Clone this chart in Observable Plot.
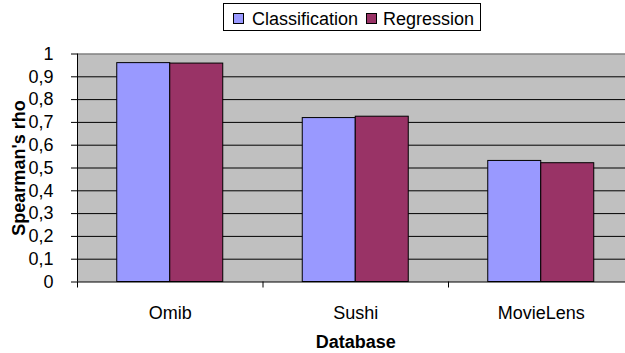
<!DOCTYPE html>
<html><head><meta charset="utf-8">
<script src="https://cdn.jsdelivr.net/npm/d3@7"></script>
<script src="https://cdn.jsdelivr.net/npm/@observablehq/plot@0.6"></script>
<style>
body{margin:0;background:#fff;font-family:"Liberation Sans",Arial,sans-serif;}
#wrap{position:relative;width:625px;height:353px;overflow:hidden;background:#fff;}
#legend{position:absolute;left:223px;top:3px;width:256px;height:26px;border:1px solid #000;background:#fff;}
.sw{position:absolute;top:9px;width:9px;height:9px;border:1px solid #000;}
.lt{position:absolute;top:5.5px;font-size:18px;line-height:18px;white-space:nowrap;color:#000;}
#chart{position:absolute;left:0;top:35px;}
</style>
</head><body>
<div id="wrap">
  <div id="chart"></div>
  <div id="legend"></div>
</div>
<script>
const categories = ["Omib", "Sushi", "MovieLens"];
const seriesNames = ["Classification", "Regression"];
const classification = [0.960, 0.719, 0.531];
const regression = [0.958, 0.725, 0.521];
const yTickValues = [0, 0.1, 0.2, 0.3, 0.4, 0.5, 0.6, 0.7, 0.8, 0.9, 1];
const yTickLabels = ["0", "0,1", "0,2", "0,3", "0,4", "0,5", "0,6", "0,7", "0,8", "0,9", "1"];
const colors = ["#9999FF", "#993366"];

// Excel-style grouped bars: gap width 150% of a bar
const gapWidth = 1.5;
const slot = 1 / (seriesNames.length + gapWidth);
const seriesValues = [classification, regression];
const rows = [];
categories.forEach((c, i) => {
  seriesValues.forEach((vals, s) => {
    rows.push({
      category: c, series: seriesNames[s], value: vals[i],
      x1: i + (gapWidth / 2 + s) * slot,
      x2: i + (gapWidth / 2 + s + 1) * slot
    });
  });
});
const catCenters = categories.map((c, i) => i + 0.5);
const catBounds = d3.range(categories.length + 1);

const chart = Plot.plot({
  width: 634, height: 318,
  marginLeft: 77, marginRight: 0.5, marginTop: 18.5, marginBottom: 71.5,
  style: {fontFamily: "'Liberation Sans', Arial, sans-serif", fontSize: "18px", color: "#000", background: "transparent", maxWidth: "none"},
  x: {domain: [0, categories.length], axis: null},
  y: {domain: [0, 1], axis: null},
  color: {domain: seriesNames, range: colors},
  marks: [
    Plot.frame({fill: "#C0C0C0", stroke: null}),
    Plot.gridY(yTickValues.slice(1, -1), {stroke: "#000", strokeOpacity: 1}),
    Plot.ruleY([1], {stroke: "#808080", strokeWidth: 1.5}),
    Plot.rectY(rows, {x1: "x1", x2: "x2", y: "value", fill: "series", stroke: "#000", strokeWidth: 1}),
    Plot.ruleX([0], {stroke: "#000"}),
    Plot.ruleY([0], {stroke: "#000"}),
    Plot.axisY(yTickValues, {
      tickSize: 6, tickPadding: 18,
      tickFormat: d => yTickLabels[Math.round(d * 10)],
      label: null
    }),
    Plot.axisX(catBounds, {tickSize: 6, tickFormat: () => "", label: null}),
    Plot.axisX(catCenters, {
      tickSize: 0, tickPadding: 24,
      tickFormat: d => categories[Math.floor(d)],
      label: null
    }),
    Plot.text(["Spearman's rho"], {
      frameAnchor: "left", textAnchor: "middle", dx: -58, rotate: -90, fontWeight: "bold", fontSize: 18
    }),
    Plot.text(["Database"], {
      frameAnchor: "bottom", dy: 66, fontWeight: "bold", fontSize: 18
    })
  ]
});
document.getElementById("chart").appendChild(chart);

// legend (HTML, above the plot)
const legend = document.getElementById("legend");
const swLeft = [9, 142], txtLeft = [28, 159];
seriesNames.forEach((name, i) => {
  const sw = document.createElement("div");
  sw.className = "sw"; sw.style.left = swLeft[i] + "px"; sw.style.background = colors[i];
  legend.appendChild(sw);
  const t = document.createElement("div");
  t.className = "lt"; t.style.left = txtLeft[i] + "px"; t.textContent = name;
  legend.appendChild(t);
});
</script>
</body></html>
